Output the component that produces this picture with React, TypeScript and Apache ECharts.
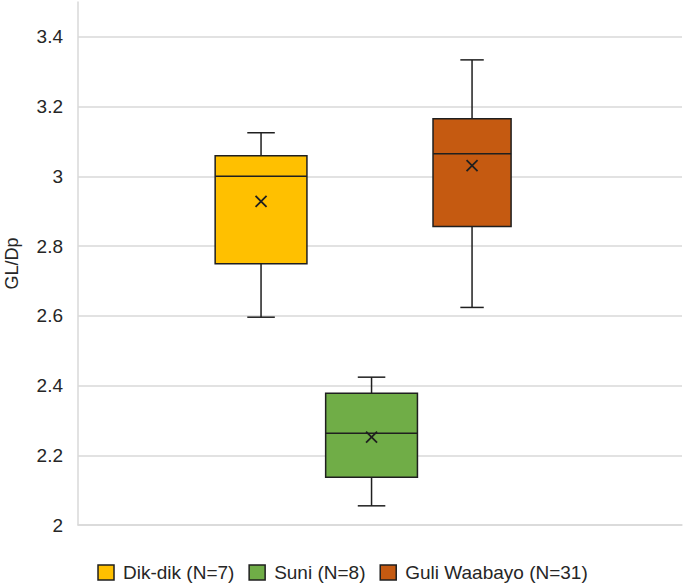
import React, { useEffect, useRef } from "react";
import * as echarts from "echarts";

const groups = ["Dik-dik (N=7)", "Suni (N=8)", "Guli Waabayo (N=31)"];
const mins = [2.596, 2.055, 2.624];
const q1s = [2.749, 2.137, 2.856];
const medians = [3.0, 2.263, 3.065];
const q3s = [3.059, 2.378, 3.165];
const maxs = [3.125, 2.424, 3.334];
const means = [2.928, 2.252, 3.031];
const yTicks = [2, 2.2, 2.4, 2.6, 2.8, 3, 3.2, 3.4];

const colors = ["#FFC000", "#70AD47", "#C55A11"];
const boxWidthFrac = [0.87, 0.87, 0.74];
const xNudgePx = [0, 5, 0];
const stroke = "#1f1f1f";
const FONT = "'Liberation Sans', Arial, sans-serif";
const TEXT = "#262626";

export default function App() {
  const ref = useRef<HTMLDivElement>(null);
  useEffect(() => {
    if (!ref.current) return;
    const chart = echarts.init(ref.current, undefined, { renderer: "svg" });

    const renderItem = (params: any, api: any) => {
      const idx = api.value(0);
      const [cx0, yMin] = api.coord([idx, api.value(1)]);
      const cx = cx0 + xNudgePx[idx];
      const yQ1 = api.coord([idx, api.value(2)])[1];
      const yMed = api.coord([idx, api.value(3)])[1];
      const yQ3 = api.coord([idx, api.value(4)])[1];
      const yMax = api.coord([idx, api.value(5)])[1];
      const yMean = api.coord([idx, api.value(6)])[1];
      const unit = api.size([1, 0])[0];
      const hw = (unit * boxWidthFrac[idx]) / 2;
      const cap = hw * 0.3;
      const ls = { stroke, lineWidth: 1.5, fill: null };
      const m = 5.5;
      return {
        type: "group",
        children: [
          { type: "line", shape: { x1: cx, y1: yMax, x2: cx, y2: yQ3 }, style: ls },
          { type: "line", shape: { x1: cx, y1: yQ1, x2: cx, y2: yMin }, style: ls },
          { type: "line", shape: { x1: cx - cap, y1: yMax, x2: cx + cap, y2: yMax }, style: ls },
          { type: "line", shape: { x1: cx - cap, y1: yMin, x2: cx + cap, y2: yMin }, style: ls },
          {
            type: "rect",
            shape: { x: cx - hw, y: yQ3, width: hw * 2, height: yQ1 - yQ3 },
            style: { fill: colors[idx], stroke, lineWidth: 1.5 },
          },
          { type: "line", shape: { x1: cx - hw, y1: yMed, x2: cx + hw, y2: yMed }, style: ls },
          { type: "line", shape: { x1: cx - m, y1: yMean - m, x2: cx + m, y2: yMean + m }, style: { stroke, lineWidth: 1.8 } },
          { type: "line", shape: { x1: cx - m, y1: yMean + m, x2: cx + m, y2: yMean - m }, style: { stroke, lineWidth: 1.8 } },
        ],
      };
    };

    const series = groups.map((name, i) => ({
      name,
      type: "custom",
      renderItem,
      itemStyle: { color: colors[i], borderColor: stroke, borderWidth: 1.5 },
      encode: { x: 0, y: [1, 2, 3, 4, 5] },
      data: [[i, mins[i], q1s[i], medians[i], q3s[i], maxs[i], means[i]]],
    }));

    chart.setOption({
      animation: false,
      backgroundColor: "#ffffff",
      grid: { left: 78, right: 3, top: 2, bottom: 61, outerBoundsMode: "none", containLabel: false },
      xAxis: {
        type: "value",
        min: -1.735,
        max: 3.99,
        show: true,
        axisLine: { show: true, onZero: false, lineStyle: { color: "#d9d9d9", width: 1.5 } },
        axisTick: { show: false },
        axisLabel: { show: false },
        splitLine: { show: false },
      },
      yAxis: {
        type: "value",
        min: 2,
        max: 3.5,
        interval: 0.2,
        name: "GL/Dp",
        nameLocation: "middle",
        nameGap: 57,
        nameTextStyle: { color: TEXT, fontSize: 18, fontFamily: FONT },
        axisLine: { show: true, onZero: false, lineStyle: { color: "#d9d9d9", width: 1.5 } },
        axisTick: { show: false },
        axisLabel: {
          color: TEXT,
          fontSize: 19,
          fontFamily: FONT,
          margin: 15,
          showMaxLabel: false,
          formatter: (v: number) => {
            const t = yTicks.find((x) => Math.abs(x - v) < 1e-6);
            return t === undefined ? "" : String(t);
          },
        },
        splitLine: { show: true, showMaxLine: false, lineStyle: { color: "#d9d9d9", width: 1.5 } },
      },
      legend: {
        top: 558,
        left: "center",
        itemWidth: 16,
        itemHeight: 15,
        itemGap: 14,
        icon: "rect",
        textStyle: { color: TEXT, fontSize: 19, fontFamily: FONT, padding: [0, 0, 0, 4] },
        data: groups.map((g, i) => ({
          name: g,
          itemStyle: { color: colors[i], borderColor: stroke, borderWidth: 1.5 },
        })),
      },
      series,
    });
    return () => chart.dispose();
  }, []);
  return (
    <div
      ref={ref}
      style={{ position: "fixed", left: 0, top: 0, width: 685, height: 586 }}
    />
  );
}
